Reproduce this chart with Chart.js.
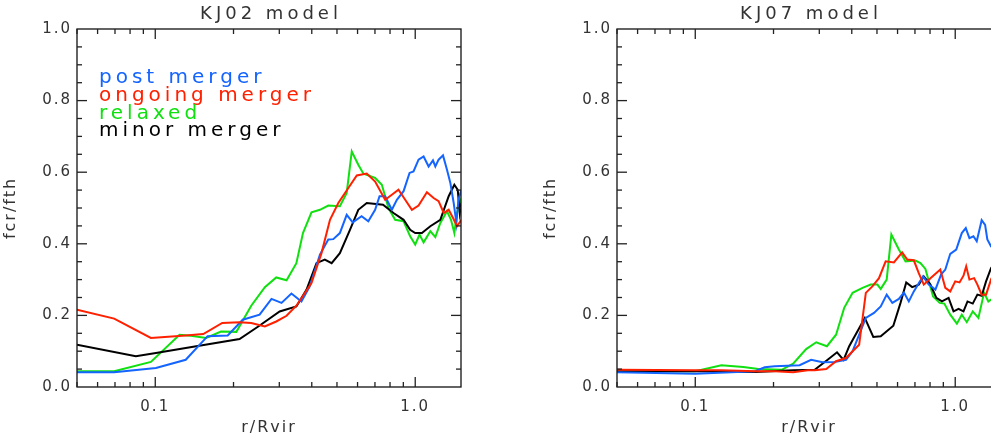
<!DOCTYPE html>
<html>
<head>
<meta charset="utf-8">
<script src="https://cdn.jsdelivr.net/npm/chart.js@4"></script>
<style>
  html, body { margin: 0; padding: 0; background: #fff; }
  #wrap { position: relative; width: 991px; height: 439px; overflow: hidden; background: #fff; }
  .box { position: absolute; top: 0; width: 480px; height: 439px; }
  #b1 { left: 0; }
  #b2 { left: 540px; }
</style>
</head>
<body>
<div id="wrap">
  <div class="box" id="b1"><canvas id="c1" width="480" height="439"></canvas></div>
  <div class="box" id="b2"><canvas id="c2" width="480" height="439"></canvas></div>
</div>
<script>
// ---------------- DATA ----------------
const seriesNames = ['post merger', 'ongoing merger', 'relaxed', 'minor merger'];
const seriesColors = ['#1464ff', '#ff2000', '#10e010', '#000000'];
const panelTitles = ['KJ02 model', 'KJ07 model'];
const xTickValues = [0.1, 1.0];
const yTickValues = [0.0, 0.2, 0.4, 0.6, 0.8, 1.0];

// KJ02 panel
const kj02PostX = [0.05,0.0695,0.1006,0.131,0.159,0.190,0.217,0.252,0.280,0.306,0.334,0.365,0.393,0.430,0.463,0.484,0.513,0.545,0.575,0.622,0.660,0.701,0.729,0.766,0.813,0.850,0.902,0.951,0.985,1.030,1.077,1.126,1.170,1.195,1.230,1.279,1.325,1.365,1.406,1.440,1.466,1.505];
const kj02PostY = [0.041,0.041,0.053,0.076,0.142,0.144,0.188,0.202,0.246,0.235,0.261,0.239,0.281,0.370,0.412,0.413,0.430,0.481,0.460,0.477,0.463,0.495,0.533,0.533,0.495,0.523,0.547,0.598,0.602,0.635,0.644,0.616,0.633,0.616,0.635,0.647,0.607,0.570,0.514,0.458,0.523,0.551];

const kj02OngoingX = [0.05,0.0695,0.0962,0.131,0.153,0.181,0.211,0.234,0.264,0.292,0.320,0.349,0.399,0.436,0.470,0.506,0.553,0.596,0.651,0.701,0.766,0.813,0.862,0.915,0.971,1.030,1.109,1.177,1.230,1.287,1.345,1.398,1.448,1.505];
const kj02OngoingY = [0.216,0.191,0.137,0.144,0.148,0.179,0.181,0.179,0.169,0.183,0.199,0.227,0.290,0.374,0.467,0.514,0.556,0.591,0.596,0.574,0.523,0.537,0.551,0.523,0.495,0.507,0.544,0.528,0.519,0.486,0.495,0.472,0.449,0.467];

const kj02RelaxedX = [0.05,0.0695,0.0962,0.124,0.137,0.157,0.179,0.205,0.234,0.264,0.292,0.320,0.349,0.370,0.399,0.430,0.463,0.513,0.545,0.570,0.604,0.632,0.701,0.744,0.789,0.837,0.902,0.956,1.0,1.039,1.077,1.143,1.195,1.249,1.325,1.373,1.414,1.448,1.505];
const kj02RelaxedY = [0.044,0.044,0.070,0.146,0.143,0.137,0.155,0.154,0.227,0.279,0.306,0.298,0.346,0.430,0.488,0.495,0.507,0.505,0.542,0.658,0.621,0.596,0.584,0.565,0.500,0.467,0.463,0.421,0.398,0.426,0.404,0.435,0.419,0.458,0.491,0.467,0.430,0.486,0.528];

const kj02MinorX = [0.05,0.0842,0.1006,0.131,0.211,0.249,0.301,0.349,0.382,0.417,0.449,0.477,0.513,0.561,0.604,0.651,0.752,0.825,0.902,0.956,1.0,1.061,1.143,1.249,1.345,1.414,1.457,1.484,1.505];
const kj02MinorY = [0.118,0.086,0.095,0.109,0.134,0.169,0.211,0.225,0.272,0.346,0.356,0.346,0.374,0.439,0.495,0.514,0.509,0.486,0.467,0.439,0.430,0.430,0.449,0.467,0.533,0.565,0.551,0.486,0.514];

// KJ07 panel
const kj07PostX = [0.05,0.1,0.170,0.185,0.202,0.252,0.279,0.309,0.343,0.380,0.403,0.453,0.487,0.517,0.545,0.573,0.607,0.635,0.663,0.693,0.724,0.752,0.791,0.839,0.882,0.916,0.957,1.009,1.060,1.098,1.134,1.175,1.210,1.264,1.303,1.329,1.373,1.43,1.5];
const kj07PostY = [0.041,0.037,0.044,0.055,0.058,0.061,0.076,0.069,0.070,0.076,0.100,0.193,0.207,0.225,0.258,0.235,0.246,0.264,0.239,0.267,0.290,0.309,0.286,0.272,0.314,0.328,0.372,0.384,0.430,0.444,0.416,0.421,0.407,0.466,0.453,0.412,0.393,0.380,0.400];

const kj07OngoingX = [0.05,0.1,0.126,0.170,0.202,0.238,0.271,0.288,0.319,0.348,0.380,0.403,0.427,0.453,0.480,0.509,0.540,0.581,0.625,0.654,0.693,0.724,0.757,0.803,0.876,0.916,0.957,1.0,1.039,1.076,1.102,1.134,1.182,1.217,1.264,1.314,1.373,1.43,1.5];
const kj07OngoingY = [0.048,0.047,0.047,0.044,0.044,0.041,0.047,0.047,0.050,0.072,0.081,0.100,0.118,0.263,0.281,0.304,0.351,0.348,0.376,0.356,0.354,0.318,0.286,0.304,0.328,0.277,0.267,0.295,0.292,0.311,0.337,0.300,0.304,0.286,0.258,0.258,0.300,0.285,0.275];

const kj07RelaxedX = [0.05,0.1,0.126,0.153,0.175,0.215,0.238,0.267,0.292,0.321,0.348,0.374,0.403,0.440,0.473,0.502,0.517,0.545,0.568,0.607,0.644,0.703,0.735,0.768,0.822,0.871,0.908,0.957,1.015,1.060,1.108,1.168,1.228,1.291,1.341,1.373,1.43,1.5];
const kj07RelaxedY = [0.044,0.044,0.061,0.056,0.050,0.048,0.065,0.106,0.125,0.114,0.146,0.221,0.263,0.277,0.286,0.286,0.274,0.300,0.426,0.384,0.351,0.353,0.346,0.330,0.253,0.235,0.233,0.202,0.177,0.202,0.181,0.211,0.193,0.263,0.239,0.244,0.250,0.240];

const kj07MinorX = [0.05,0.1,0.170,0.238,0.288,0.323,0.351,0.372,0.391,0.449,0.484,0.517,0.578,0.616,0.648,0.683,0.724,0.757,0.803,0.846,0.889,0.943,0.985,1.030,1.076,1.115,1.168,1.217,1.264,1.314,1.373,1.43,1.5];
const kj07MinorY = [0.044,0.044,0.042,0.047,0.048,0.076,0.097,0.076,0.114,0.193,0.140,0.142,0.171,0.235,0.292,0.279,0.286,0.309,0.286,0.249,0.239,0.249,0.211,0.218,0.211,0.239,0.233,0.258,0.255,0.295,0.332,0.350,0.340];

// ---------------- BUILD ----------------
const FONT = "'DejaVu Sans', sans-serif";
const TEXT_COLOR = '#333333';

function pts(xs, ys) { return xs.map((x, i) => ({ x: x, y: ys[i] })); }

function makeDatasets(panel) {
  const sets = panel === 0
    ? [[kj02PostX, kj02PostY], [kj02OngoingX, kj02OngoingY], [kj02RelaxedX, kj02RelaxedY], [kj02MinorX, kj02MinorY]]
    : [[kj07PostX, kj07PostY], [kj07OngoingX, kj07OngoingY], [kj07RelaxedX, kj07RelaxedY], [kj07MinorX, kj07MinorY]];
  return sets.map((s, i) => ({
    label: seriesNames[i],
    data: pts(s[0], s[1]),
    borderColor: seriesColors[i],
    backgroundColor: seriesColors[i],
    borderWidth: 2,
    pointRadius: 0,
    tension: 0,
    fill: false,
    order: [1, 0, 3, 2][i]
  }));
}

// log-axis tick values (decade majors, 2..9 minors)
function logTickValues(min, max) {
  const out = [];
  for (let d = -2; d <= 1; d++) {
    for (let m = 1; m <= 9; m++) {
      const v = m * Math.pow(10, d);
      if (v >= min * 0.999 && v <= max * 1.001) out.push({ v: v, major: m === 1 });
    }
  }
  return out;
}

const framePlugin = {
  id: 'frame',
  beforeDraw(chart) {
    chart.ctx.letterSpacing = '2px';
  },
  afterDraw(chart, args, opts) {
    const ctx = chart.ctx;
    const a = chart.chartArea;
    const xs = chart.scales.x, ys = chart.scales.y;
    ctx.save();
    ctx.setLineDash([]);
    ctx.globalAlpha = 1;
    ctx.strokeStyle = '#111111';
    ctx.lineWidth = 1.3;
    ctx.strokeRect(a.left, a.top, a.right - a.left, a.bottom - a.top);

    ctx.fillStyle = '#222222';
    const T = 1.3;
    logTickValues(xs.min, xs.max).forEach(t => {
      const px = xs.getPixelForValue(t.v);
      const len = t.major ? 10 : 5;
      ctx.fillRect(px - T / 2, a.bottom - len, T, len);
      ctx.fillRect(px - T / 2, a.top, T, len);
    });
    for (let k = 1; k < 20; k++) {
      const py = ys.getPixelForValue(k * 0.05);
      const len = k % 4 === 0 ? 10 : 5;
      ctx.fillRect(a.left, py - T / 2, len, T);
      ctx.fillRect(a.right - len, py - T / 2, len, T);
    }

    // panel title
    ctx.letterSpacing = '4px';
    ctx.font = '18px ' + FONT;
    ctx.fillStyle = TEXT_COLOR;
    ctx.textAlign = 'center';
    ctx.textBaseline = 'middle';
    ctx.fillText(opts.title, (a.left + a.right) / 2 + 2, 14);

    // text legend
    if (opts.legend) {
      ctx.font = '20px ' + FONT;
      ctx.textAlign = 'left';
      ctx.textBaseline = 'alphabetic';
      chart.data.datasets.forEach((ds, i) => {
        ctx.fillStyle = ds.borderColor;
        ctx.fillText(ds.label, a.left + 22, 83 + i * 17.8);
      });
    }
    ctx.restore();
    ctx.letterSpacing = '2px';
  }
};

function makeChart(id, panel) {
  return new Chart(document.getElementById(id), {
    type: 'line',
    data: { datasets: makeDatasets(panel) },
    options: {
      responsive: false,
      animation: false,
      devicePixelRatio: 1,
      layout: { padding: { top: 29, right: 19, left: 0, bottom: 0 } },
      plugins: {
        legend: { display: false },
        tooltip: { enabled: false },
        frame: { title: panelTitles[panel], legend: panel === 0 }
      },
      scales: {
        x: {
          type: 'logarithmic',
          min: 0.05,
          max: 1.5,
          grid: { display: false, drawTicks: false },
          border: { display: false },
          afterBuildTicks(scale) { scale.ticks = xTickValues.map(v => ({ value: v })); },
          afterFit(scale) { scale.height = 52; },
          ticks: {
            autoSkip: false,
            maxRotation: 0,
            padding: 11,
            color: TEXT_COLOR,
            font: { family: FONT, size: 15 },
            callback: (v) => Number(v).toFixed(1)
          },
          title: {
            display: true,
            text: 'r/Rvir',
            color: TEXT_COLOR,
            font: { family: FONT, size: 16 },
            padding: { top: 0, bottom: 2 }
          }
        },
        y: {
          type: 'linear',
          min: 0,
          max: 1,
          grid: { display: false, drawTicks: false },
          border: { display: false },
          afterBuildTicks(scale) { scale.ticks = yTickValues.map(v => ({ value: v })); },
          afterFit(scale) { scale.width = 77; },
          ticks: {
            padding: 5,
            color: TEXT_COLOR,
            font: { family: FONT, size: 15 },
            callback: (v) => Number(v).toFixed(1)
          },
          title: {
            display: true,
            text: 'fcr/fth',
            color: TEXT_COLOR,
            font: { family: FONT, size: 16 },
            padding: { top: 1, bottom: 0 }
          }
        }
      }
    },
    plugins: [framePlugin]
  });
}

makeChart('c1', 0);
makeChart('c2', 1);
</script>
</body>
</html>
